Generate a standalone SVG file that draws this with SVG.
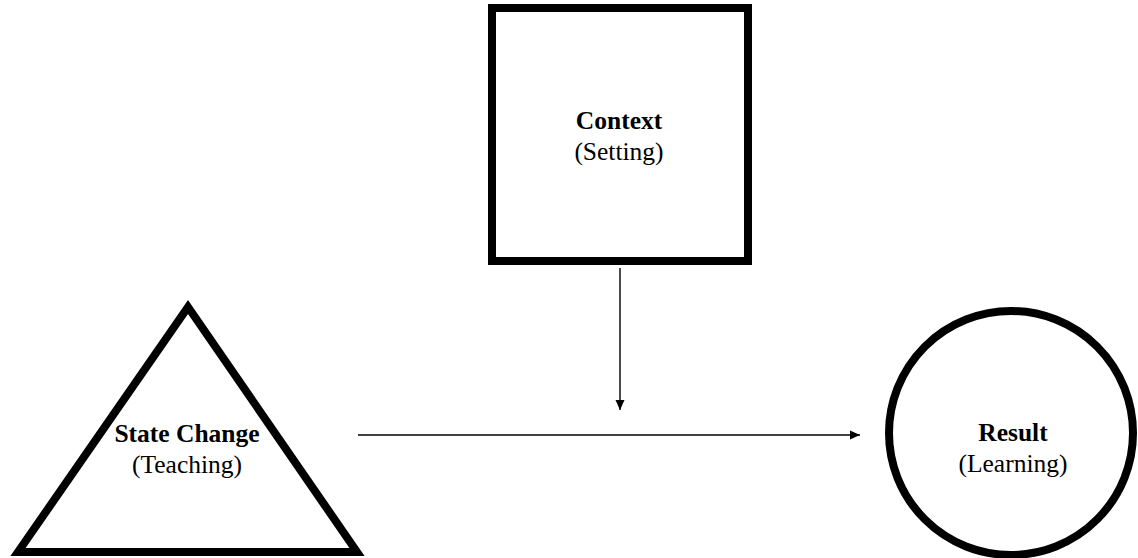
<svg xmlns="http://www.w3.org/2000/svg" width="1138" height="558" viewBox="0 0 1138 558">
  <style>
    .shape { fill: #ffffff; stroke: #000000; stroke-width: 8; stroke-linejoin: miter; }
    .title { font-family: "Liberation Serif", "Times New Roman", serif; font-size: 25.5px; font-weight: bold; fill: #000000; text-anchor: middle; }
    .sub { font-family: "Liberation Serif", "Times New Roman", serif; font-size: 25.5px; fill: #000000; text-anchor: middle; }
    .link { stroke: #000000; stroke-width: 1.4; fill: none; marker-end: url(#head); }
  </style>
  <defs>
    <marker id="head" viewBox="0 0 10 10" refX="10" refY="5" markerWidth="10" markerHeight="10" markerUnits="userSpaceOnUse" orient="auto">
      <path d="M0,0.5 L10,5 L0,9.5 Z" fill="#000000"/>
    </marker>
  </defs>
  <rect width="1138" height="558" fill="#ffffff"/>

  <g id="context">
    <rect class="shape" x="492" y="8" width="256" height="253"/>
    <text class="title" x="619" y="129">Context</text>
    <text class="sub" x="619" y="160">(Setting)</text>
  </g>

  <g id="state-change">
    <polygon class="shape" points="18,552 188,307 357,552"/>
    <text class="title" x="187" y="442">State Change</text>
    <text class="sub" x="187" y="473">(Teaching)</text>
  </g>

  <g id="result">
    <circle class="shape" cx="1011" cy="433" r="122"/>
    <text class="title" x="1013" y="441">Result</text>
    <text class="sub" x="1013" y="472">(Learning)</text>
  </g>

  <g id="connectors">
    <line class="link" x1="620" y1="268" x2="620" y2="410"/>
    <line class="link" x1="358" y1="435" x2="860" y2="435"/>
  </g>
</svg>
